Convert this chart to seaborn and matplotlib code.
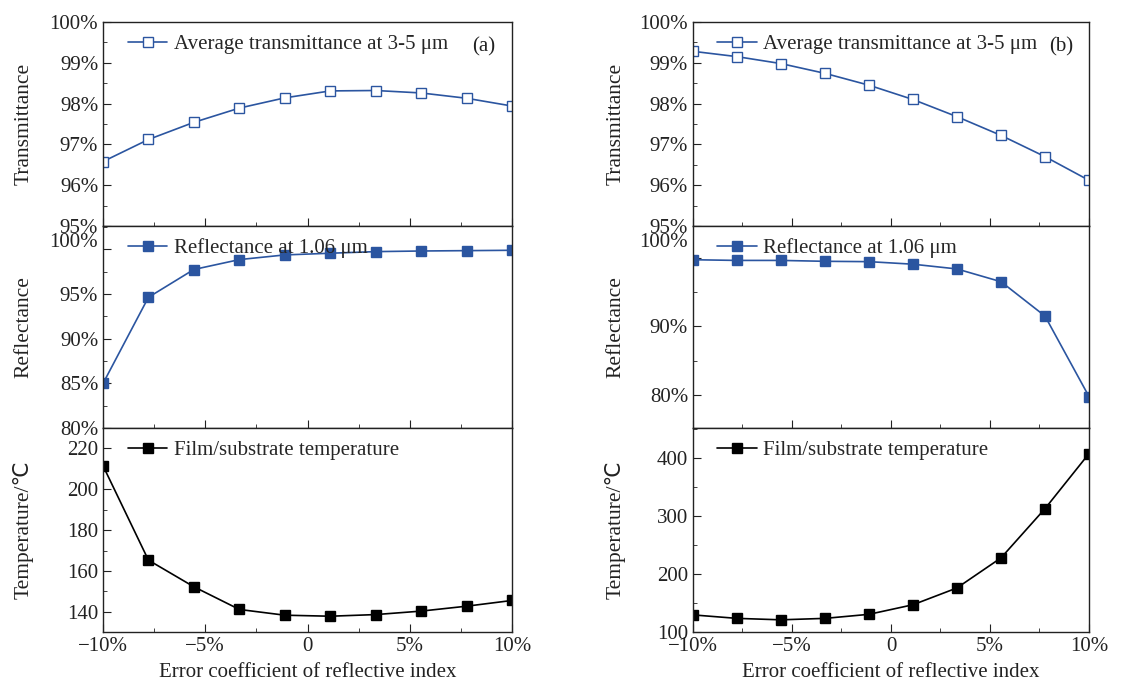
import numpy as np
import pandas as pd
import matplotlib
matplotlib.use("Agg")
import matplotlib.pyplot as plt
from matplotlib.ticker import MultipleLocator, FuncFormatter
import seaborn as sns

# DATA
error_coef = [-10, -7.78, -5.56, -3.33, -1.11, 1.11, 3.33, 5.56, 7.78, 10]

trans_a = [96.58, 97.12, 97.54, 97.89, 98.14, 98.31, 98.32, 98.26, 98.13, 97.94]
refl_a = [85.0, 94.63, 97.74, 98.85, 99.37, 99.56, 99.74, 99.81, 99.85, 99.89]
temp_a = [211.4, 165.3, 152.3, 141.2, 138.4, 137.9, 138.7, 140.4, 142.8, 145.6]

trans_b = [99.28, 99.15, 98.98, 98.74, 98.45, 98.1, 97.68, 97.22, 96.7, 96.12]
refl_b = [99.7, 99.6, 99.6, 99.47, 99.42, 99.05, 98.36, 96.5, 91.5, 79.8]
temp_b = [129.5, 123.5, 121.0, 123.5, 130.5, 147.0, 176.0, 228.0, 313.0, 408.0]

x_ticklabels = ["\u221210%", "\u22125%", "0", "5%", "10%"]
leg_trans = "Average transmittance at 3-5 \u03bcm"
leg_refl = "Reflectance at 1.06 \u03bcm"
leg_temp = "Film/substrate temperature"

BLUE = "#2b55a0"

sns.set_style("ticks")
plt.rcParams["font.family"] = ["Liberation Serif", "DejaVu Sans"]
plt.rcParams["axes.linewidth"] = 1.0

fig = plt.figure(figsize=(11.36, 6.85), dpi=100)

FS = 15
LFS = 15.5


def pct_skip(skip):
    # percent labels; the top one is drawn by hand a little higher
    return FuncFormatter(lambda v, p: "" if skip is not None and abs(v - skip) < 1e-6
                         else f"{v:.0f}%")


def panel(ax, y, color, filled, label, ylim, major, minor, fmt, ylab, bottom):
    df = pd.DataFrame({"x": error_coef, "y": y})
    sns.lineplot(data=df, x="x", y="y", ax=ax, color=color, marker="s",
                 markersize=7, linewidth=1.2,
                 markerfacecolor=color if filled else "white",
                 markeredgecolor=color, markeredgewidth=1.0, label=label)
    ax.set_xlim(-10, 10)
    ax.set_ylim(*ylim)
    ax.xaxis.set_major_locator(MultipleLocator(5))
    ax.xaxis.set_minor_locator(MultipleLocator(2.5))
    ax.yaxis.set_major_locator(MultipleLocator(major))
    ax.yaxis.set_minor_locator(MultipleLocator(minor))
    if fmt is not None:
        ax.yaxis.set_major_formatter(fmt)
    ax.tick_params(axis="both", which="major", direction="in", length=6,
                   labelsize=FS, top=False, right=False, color="#222222",
                   labelcolor="#222222")
    ax.tick_params(axis="both", which="minor", direction="in", length=3,
                   top=False, right=False, color="#222222")
    ax.set_ylabel(ylab, fontsize=LFS, color="#222222")
    ax.yaxis.set_label_coords(-0.17, 0.5)
    ax.set_xlabel("")
    if bottom:
        ax.set_xticks([-10, -5, 0, 5, 10])
        ax.set_xticklabels(x_ticklabels, fontsize=FS)
    else:
        ax.tick_params(axis="x", labelbottom=False)
    for s in ax.spines.values():
        s.set_visible(True)
        s.set_color("#222222")
    ax.legend(loc="upper left", frameon=False, fontsize=FS,
              handlelength=1.9, handletextpad=0.3,
              borderaxespad=0.2, bbox_to_anchor=(0.03, 1.0))
    return ax


cols = [
    (0.0907, 0.3600, trans_a, refl_a, temp_a,
     (80, 102.6), 5, 2.5, 5, (130.2, 229.8), 20, 10, "(a)"),
    (0.6100, 0.3486, trans_b, refl_b, temp_b,
     (75.2, 104.6), 10, 5, 11, (100, 452), 100, 50, "(b)"),
]

rows_y = [0.670, 0.375, 0.0774]
h = [0.298, 0.295, 0.2976]

for (left, width, tr, rf, tp, rlim, rmaj, rmin, shift,
     tlim, tmaj, tmin, tag) in cols:
    ax1 = fig.add_axes([left, rows_y[0], width, h[0]])
    panel(ax1, tr, BLUE, False, leg_trans, (95, 100), 1, 0.5, pct_skip(None),
          "Transmittance", False)
    ax1.text(0.96, 0.88, tag, transform=ax1.transAxes, ha="right",
             va="center", fontsize=FS, color="#222222")

    ax2 = fig.add_axes([left, rows_y[1], width, h[1]], sharex=ax1)
    panel(ax2, rf, BLUE, True, leg_refl, rlim, rmaj, rmin, pct_skip(100),
          "Reflectance", False)
    ax2.annotate("100%", xy=(0, 100), xycoords=ax2.get_yaxis_transform(),
                 xytext=(-3.5, shift), textcoords="offset points",
                 ha="right", va="center", fontsize=FS, color="#222222")

    ax3 = fig.add_axes([left, rows_y[2], width, h[2]], sharex=ax1)
    panel(ax3, tp, "black", True, leg_temp, tlim, tmaj, tmin, None,
          "Temperature/\u2103", True)
    ax3.set_xlabel("Error coefficient of reflective index", fontsize=FS,
                   labelpad=5, color="#222222")

fig.savefig("out.png", dpi=100)
